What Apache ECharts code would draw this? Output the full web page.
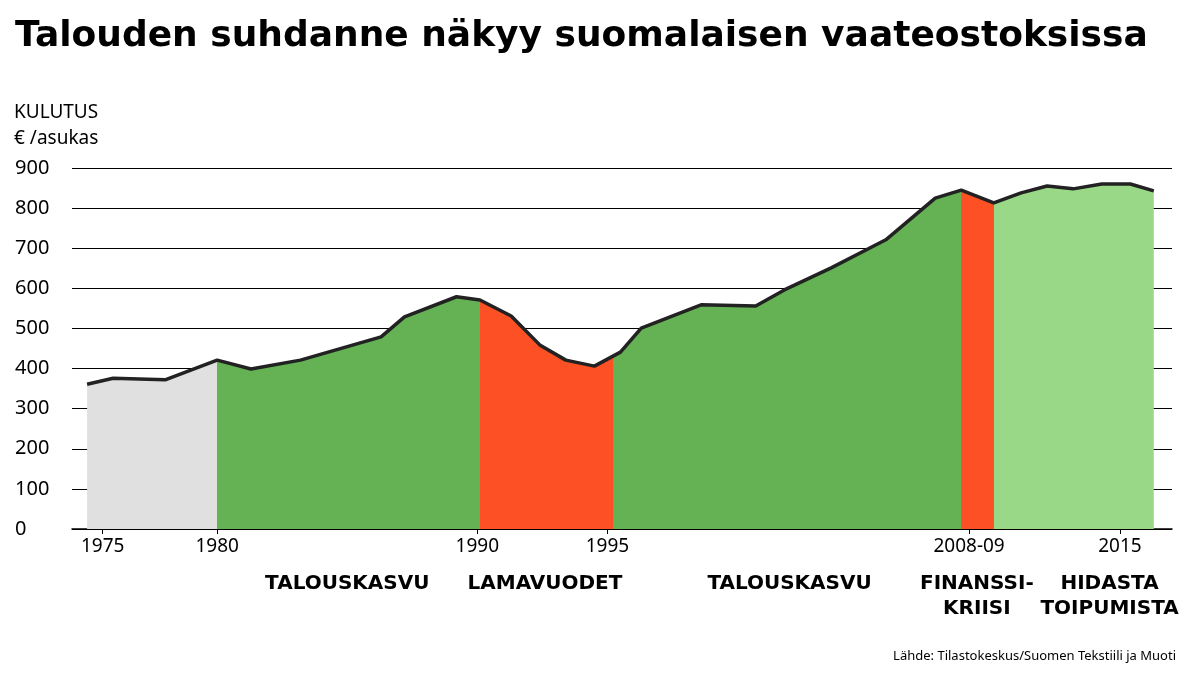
<!DOCTYPE html>
<html><head><meta charset="utf-8">
<script src="https://cdn.jsdelivr.net/npm/echarts@6/dist/echarts.min.js"></script>
<style>html,body{margin:0;padding:0;background:#fff}#c{width:1198px;height:674px}</style>
</head><body><div id="c"></div>
<script>
const years = [1975,1976,1978,1980,1981.3,1983.2,1986.3,1987.2,1989.2,1990.1,1991.3,1992.4,1993.4,1994.5,1995.5,1996.3,1998.6,2000.7,2001.8,2003.6,2005.7,2007.6,2008.6,2009.85,2010.9,2011.9,2012.9,2014,2015.1,2016];
const values = [361,376,372,421,399,421,479,529,579,571,531,459,421,406,441,501,559,556,596,651,721,825,845,813,838,855,848,860,860,843];
const tickYears = [1975.6,1980,1990,1995,2008.9,2014.7];
const tickLabels = ['1975','1980','1990','1995','2008-09','2015'];
const periods = [
  {from:1974,to:1980,color:'#e0e0e0'},
  {from:1980,to:1990.1,color:'#64b254'},
  {from:1990.1,to:1995.2,color:'#fe5025'},
  {from:1995.2,to:2008.6,color:'#64b254'},
  {from:2008.6,to:2009.85,color:'#fe5025'},
  {from:2009.85,to:2017,color:'#98d886'}
];
const periodNames = [['TALOUSKASVU',1985],['LAMAVUODET',1992.6],['TALOUSKASVU',2002],['FINANSSI-\nKRIISI',2009.2],['HIDASTA\nTOIPUMISTA',2014.3]];
const data = years.map((y,i)=>[y,values[i]]);
const chart = echarts.init(document.getElementById('c'));
const xMin=1974.42, xMax=2016.7, gl=72, gr=26, W=1198;
const xp = y => gl + (y-xMin)/(xMax-xMin)*(W-gl-gr);
chart.setOption({
  animation:false,
  grid:{left:gl,right:gr,top:168,bottom:145},
  title:{text:'Talouden suhdanne näkyy suomalaisen vaateostoksissa',left:10,top:14,
    textStyle:{fontFamily:'DejaVu Sans',fontWeight:'900',fontSize:36,color:'#000'}},
  xAxis:{type:'value',min:xMin,max:xMax,splitLine:{show:false},
    axisLine:{lineStyle:{color:'#000',width:1.5}},
    axisTick:{show:true,customValues:tickYears,length:5,lineStyle:{color:'#000'}},
    axisLabel:{customValues:tickYears,formatter:v=>tickLabels[tickYears.findIndex(t=>Math.abs(t-v)<0.01)]||'',
      fontFamily:'Noto Sans',fontSize:19,color:'#000',margin:8}},
  yAxis:{type:'value',min:0,max:900,interval:100,
    axisLabel:{fontFamily:'Noto Sans',fontSize:20,color:'#000',align:'left',margin:57},
    splitLine:{lineStyle:{color:'#000',width:1}},axisLine:{show:false},axisTick:{show:false}},
  visualMap:{show:false,type:'piecewise',dimension:0,seriesIndex:0,
    pieces:periods.map(p=>({gte:p.from,lt:p.to,color:p.color}))},
  series:[
    {type:'line',data:data,symbol:'none',lineStyle:{width:0},areaStyle:{opacity:1},z:1},
    {type:'line',data:data,symbol:'none',lineStyle:{color:'#222',width:3.5},z:3}
  ],
  graphic:[
    {type:'text',left:14,top:100,style:{text:'KULUTUS\n€ /asukas',fontFamily:'Noto Sans',fontSize:19,lineHeight:26,fill:'#000'}},
    ...periodNames.map(p=>({type:'text',x:xp(p[1]),y:571,style:{text:p[0],align:'center',fontFamily:'DejaVu Sans',fontWeight:'bold',fontSize:20,lineHeight:25,fill:'#000'}})),
    {type:'text',right:22,top:650,style:{text:'Lähde: Tilastokeskus/Suomen Tekstiili ja Muoti',fontFamily:'Noto Sans',fontSize:13,fill:'#000'}}
  ]
});
</script></body></html>
